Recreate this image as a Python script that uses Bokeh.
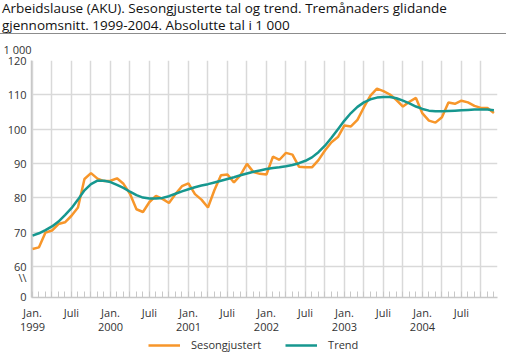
from bokeh.plotting import figure
from bokeh.models import (Range1d, FixedTicker, LinearAxis, Legend, LegendItem, Title, Div)
from bokeh.layouts import column
from bokeh.embed import file_html
from bokeh.resources import INLINE

title_lines = [
    "Arbeidslause (AKU). Sesongjusterte tal og trend. Tremånaders glidande",
    "gjennomsnitt. 1999-2004. Absolutte tal i 1 000",
]
unit_label = "1 000"

# Monthly values Jan 1999 - Dec 2004 (1 000 persons)
sesongjustert = [
    65.1, 65.6, 69.9, 70.5, 72.4, 72.9, 74.8, 77.2, 85.5, 87.2, 85.6, 84.9,
    85.0, 85.7, 84.1, 81.2, 76.7, 75.9, 78.8, 80.6, 79.7, 78.5, 81.1, 83.4,
    84.2, 81.1, 79.5, 77.2, 82.3, 86.6, 86.8, 84.5, 86.6, 89.9, 87.5, 87.0,
    86.8, 92.0, 91.1, 93.1, 92.6, 89.1, 88.9, 88.9, 91.0, 93.8, 96.2, 97.7,
    101.1, 100.8, 102.7, 106.4, 109.8, 111.8, 111.1, 110.1, 108.5, 106.6, 108.0, 109.1,
    104.6, 102.5, 101.9, 103.5, 107.8, 107.4, 108.3, 107.8, 106.8, 106.2, 106.2, 104.7,
]
trend = [
    69.0, 69.7, 70.6, 71.7, 73.1, 75.0, 77.0, 79.5, 82.2, 84.0, 85.0, 85.0,
    84.6, 83.8, 82.9, 81.8, 80.8, 80.1, 79.8, 79.8, 80.0, 80.5, 81.2, 81.9,
    82.5, 83.1, 83.6, 84.0, 84.5, 85.0, 85.5, 86.0, 86.6, 87.1, 87.6, 88.0,
    88.4, 88.7, 88.9, 89.2, 89.6, 90.1, 90.8, 91.8, 93.3, 95.2, 97.5, 100.0,
    102.5, 104.7, 106.5, 107.8, 108.7, 109.2, 109.4, 109.4, 109.0, 108.3, 107.5, 106.6,
    105.9, 105.4, 105.2, 105.2, 105.3, 105.4, 105.5, 105.6, 105.7, 105.7, 105.7, 105.5,
]
years = ["1999", "2000", "2001", "2002", "2003", "2004"]
month_labels = {0: "Jan.", 6: "Juli"}
series_names = ["Sesongjustert", "Trend"]
y_tick_values = [60, 70, 80, 90, 100, 110, 120]
y_axis_start = 51
y_zero_tick = 51.3
y_break_value = 56.7
y_break_label = "0"
y_break_mark = "\\\\"

ORANGE = "#F7962A"
TEAL = "#16978F"
GRID = "#D9D9D9"
AXIS = "#C8C8C8"
TEXT = "#333333"
FONT = "Open Sans"

months = list(range(len(sesongjustert)))

title_div = Div(
    text=('<div style="font-family:\'Open Sans\';font-size:13.5px;line-height:17px;'
          'color:#111111;padding-left:2px;height:34px;width:506px;'
          'border-bottom:1px solid #8C8C8C;white-space:nowrap;">'
          + title_lines[0] + '<br>' + title_lines[1] + '</div>'),
    width=508, height=35, margin=0,
)

p = figure(
    width=508, height=297, frame_width=466, frame_height=237,
    output_backend="svg", toolbar_location=None,
    x_range=Range1d(-0.15, 71.55), y_range=Range1d(y_axis_start, 120),
    min_border_left=31, min_border_right=11, min_border_top=25, min_border_bottom=0,
    margin=0,
)
p.title.text = ""
p.outline_line_color = None

unit_title = Title(text=unit_label, align="left", offset=-28, standoff=7,
                   text_font=FONT, text_font_size="11px", text_font_style="normal",
                   text_color=TEXT)
p.add_layout(unit_title, "above")

# grids
p.xgrid.ticker = FixedTicker(ticks=[m for m in months if m % 3 == 0])
p.xgrid.grid_line_color = GRID
p.xgrid.grid_line_width = 1.5
p.ygrid.ticker = FixedTicker(ticks=y_tick_values)
p.ygrid.grid_line_color = GRID
p.ygrid.grid_line_width = 1.5

# x axis: month names
x_major = [m for m in months if m % 6 == 0]
p.xaxis.ticker = FixedTicker(ticks=x_major, minor_ticks=months)
p.xaxis.major_label_overrides = {m: month_labels[m % 12] for m in x_major}
p.xaxis.major_tick_in = 0
p.xaxis.major_tick_out = 0
p.xaxis.minor_tick_in = 6
p.xaxis.minor_tick_out = 0
p.xaxis.minor_tick_line_color = AXIS
p.xaxis.axis_line_color = AXIS
p.xaxis.axis_line_width = 1.5
p.xaxis.major_label_standoff = 7
p.xaxis.major_label_text_font = FONT
p.xaxis.major_label_text_font_size = "11px"
p.xaxis.major_label_text_color = TEXT

# second x axis: years
jan_ticks = [m for m in months if m % 12 == 0]
year_axis = LinearAxis(
    ticker=FixedTicker(ticks=jan_ticks),
    major_label_overrides={m: years[m // 12] for m in jan_ticks},
    major_tick_in=0, major_tick_out=0, minor_tick_in=0, minor_tick_out=0,
    axis_line_color=None, major_tick_line_color=None, minor_tick_line_color=None,
    major_label_standoff=0, major_label_text_font=FONT,
    major_label_text_font_size="11px", major_label_text_color=TEXT,
)
p.add_layout(year_axis, "below")

# y axis (broken: bottom labelled 0)
p.yaxis.ticker = FixedTicker(ticks=[y_zero_tick, y_break_value] + y_tick_values)
p.yaxis.major_label_overrides = {y_zero_tick: y_break_label, y_break_value: y_break_mark}
p.yaxis.major_tick_in = 0
p.yaxis.major_tick_out = 0
p.yaxis.minor_tick_line_color = None
p.yaxis.axis_line_color = AXIS
p.yaxis.axis_line_width = 1.5
p.yaxis.major_label_standoff = 5
p.yaxis.major_label_text_font = FONT
p.yaxis.major_label_text_font_size = "11px"
p.yaxis.major_label_text_color = TEXT

p.line(months, sesongjustert, line_color=ORANGE, line_width=2.5)
p.line(months, trend, line_color=TEAL, line_width=2.5)

# legend strip: same series, drawn outside its (empty) value range so only the key shows
lg = figure(
    width=508, height=21, frame_width=508, frame_height=21,
    output_backend="svg", toolbar_location=None,
    x_range=Range1d(-0.15, 71.55), y_range=Range1d(0, 1),
    x_axis_type=None, y_axis_type=None,
    min_border_left=0, min_border_right=0, min_border_top=0, min_border_bottom=0,
    margin=0,
)
lg.title.text = ""
lg.outline_line_color = None
lg.xgrid.visible = False
lg.ygrid.visible = False
k1 = lg.line(months, sesongjustert, line_color=ORANGE, line_width=2.5)
k2 = lg.line(months, trend, line_color=TEAL, line_width=2.5)
legend = Legend(
    items=[LegendItem(label=series_names[0], renderers=[k1]),
           LegendItem(label=series_names[1], renderers=[k2])],
    orientation="horizontal", location=(148, 2),
    label_text_font=FONT, label_text_font_size="11px", label_text_color=TEXT,
    glyph_width=32, glyph_height=12, label_height=12, label_standoff=11,
    spacing=24, padding=0, margin=0,
    border_line_color=None, background_fill_alpha=0,
)
lg.add_layout(legend, "center")

bottom_rule = Div(
    text='<div style="border-top:1px solid #8C8C8C;width:508px;height:2px;"></div>',
    width=508, height=3, margin=0,
)

layout = column(title_div, p, lg, bottom_rule, spacing=0)
open("out.html", "w").write(file_html(layout, INLINE))
